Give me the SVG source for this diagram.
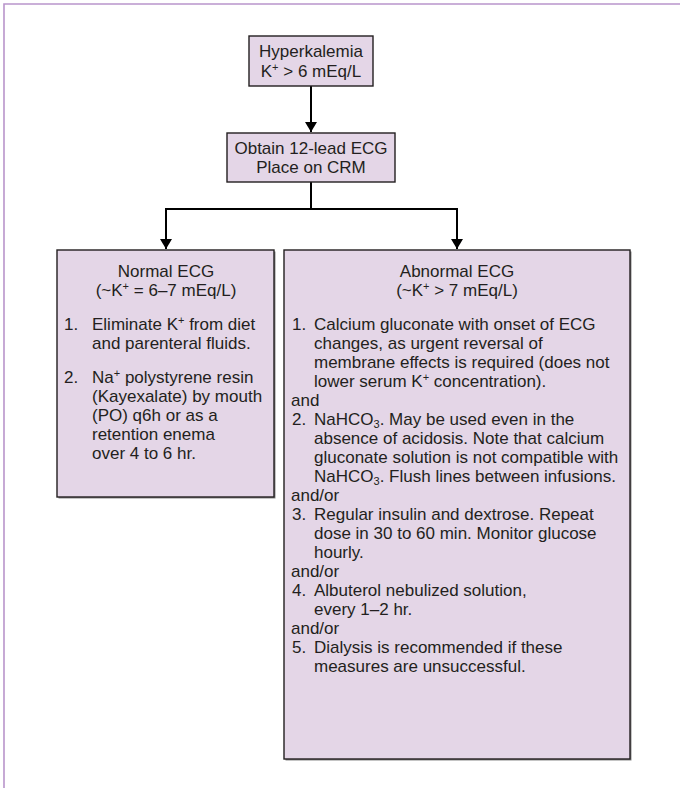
<svg xmlns="http://www.w3.org/2000/svg" width="680" height="788" viewBox="0 0 680 788">
<defs>
<style>
.box{fill:#e4d6e7;stroke:#231f20;stroke-width:1.4}
.shadow{fill:#8a8a8a}
.t{font-family:"Liberation Sans",Arial,Helvetica,sans-serif;font-size:17px;fill:#231f20}
.c{text-anchor:middle}
.conn{fill:none;stroke:#000;stroke-width:2}
.frame{fill:none;stroke:#b995cb;stroke-width:1.6}
</style>
<marker id="ah" viewBox="0 0 10 12" refX="10" refY="6" markerWidth="10" markerHeight="12" markerUnits="userSpaceOnUse" orient="auto">
<path d="M0,0 L10,6 L0,12 Z" fill="#000"/>
</marker>
</defs>
<rect width="680" height="788" fill="#fff"/>
<path class="frame" d="M4,788 L4,4 L680,4"/>

<g id="connectors">
<path class="conn" d="M311,86 L311,132" marker-end="url(#ah)"/>
<path class="conn" d="M311,182 L311,209 M165,209 L457,209"/>
<path class="conn" d="M166,208 L166,249" marker-end="url(#ah)"/>
<path class="conn" d="M457,208 L457,249" marker-end="url(#ah)"/>
</g>

<g id="hyperkalemia">
<rect class="box" x="249" y="36" width="124" height="50"/>
<text class="t c" x="311" y="57">Hyperkalemia</text>
<text class="t c" x="311" y="77">K<tspan dy="-6" font-size="11">+</tspan><tspan dy="6"> &gt; 6 mEq/L</tspan></text>
</g>

<g id="obtain-ecg">
<rect class="box" x="227" y="133" width="168" height="49"/>
<text class="t c" x="311" y="154">Obtain 12-lead ECG</text>
<text class="t c" x="311" y="173">Place on CRM</text>
</g>

<g id="normal-ecg">
<rect class="shadow" x="58.5" y="251.5" width="217" height="247"/>
<rect class="box" x="57" y="250" width="217" height="247"/>
<text class="t c" x="166" y="277">Normal ECG</text>
<text class="t c" x="166" y="296">(~K<tspan dy="-6" font-size="11">+</tspan><tspan dy="6"> = 6–7 mEq/L)</tspan></text>
<text class="t" x="64" y="330">1.</text>
<text class="t" x="92" y="330">Eliminate K<tspan dy="-6" font-size="11">+</tspan><tspan dy="6"> from diet</tspan></text>
<text class="t" x="92" y="349">and parenteral fluids.</text>
<text class="t" x="64" y="383">2.</text>
<text class="t" x="92" y="383">Na<tspan dy="-6" font-size="11">+</tspan><tspan dy="6"> polystyrene resin</tspan></text>
<text class="t" x="92" y="402">(Kayexalate) by mouth</text>
<text class="t" x="92" y="421">(PO) q6h or as a</text>
<text class="t" x="92" y="440">retention enema</text>
<text class="t" x="92" y="459">over 4 to 6 hr.</text>
</g>

<g id="abnormal-ecg">
<rect class="shadow" x="285.5" y="251.5" width="346" height="509"/>
<rect class="box" x="284" y="250" width="346" height="509"/>
<text class="t c" x="457" y="277">Abnormal ECG</text>
<text class="t c" x="457" y="296">(~K<tspan dy="-6" font-size="11">+</tspan><tspan dy="6"> &gt; 7 mEq/L)</tspan></text>
<text class="t" x="292" y="330">1.</text>
<text class="t" x="314" y="330">Calcium gluconate with onset of ECG</text>
<text class="t" x="314" y="349">changes, as urgent reversal of</text>
<text class="t" x="314" y="368">membrane effects is required (does not</text>
<text class="t" x="314" y="387">lower serum K<tspan dy="-6" font-size="11">+</tspan><tspan dy="6"> concentration).</tspan></text>
<text class="t" x="291" y="406">and</text>
<text class="t" x="292" y="425">2.</text>
<text class="t" x="314" y="425">NaHCO<tspan dy="3" font-size="11">3</tspan><tspan dy="-3">. May be used even in the</tspan></text>
<text class="t" x="314" y="444">absence of acidosis. Note that calcium</text>
<text class="t" x="314" y="463">gluconate solution is not compatible with</text>
<text class="t" x="314" y="482">NaHCO<tspan dy="3" font-size="11">3</tspan><tspan dy="-3">. Flush lines between infusions.</tspan></text>
<text class="t" x="291" y="501">and/or</text>
<text class="t" x="292" y="520">3.</text>
<text class="t" x="314" y="520">Regular insulin and dextrose. Repeat</text>
<text class="t" x="314" y="539">dose in 30 to 60 min. Monitor glucose</text>
<text class="t" x="314" y="558">hourly.</text>
<text class="t" x="291" y="577">and/or</text>
<text class="t" x="292" y="596">4.</text>
<text class="t" x="314" y="596">Albuterol nebulized solution,</text>
<text class="t" x="314" y="615">every 1–2 hr.</text>
<text class="t" x="291" y="634">and/or</text>
<text class="t" x="292" y="653">5.</text>
<text class="t" x="314" y="653">Dialysis is recommended if these</text>
<text class="t" x="314" y="672">measures are unsuccessful.</text>
</g>
</svg>
